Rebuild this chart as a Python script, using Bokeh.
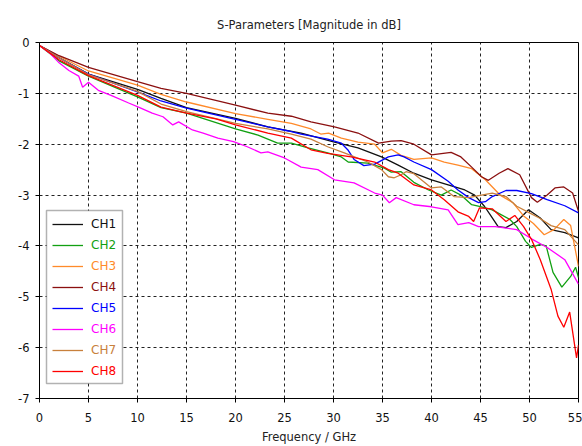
from bokeh.plotting import figure
from bokeh.models import Range1d, FixedTicker, Legend, LegendItem, BoxAnnotation, CustomJSTickFormatter
from bokeh.embed import file_html
from bokeh.resources import INLINE

title_text = "S-Parameters [Magnitude in dB]"
x_label = "Frequency / GHz"
x_ticks = [0, 5, 10, 15, 20, 25, 30, 35, 40, 45, 50, 55]
y_ticks = [-7, -6, -5, -4, -3, -2, -1, 0]

names = ["CH1", "CH2", "CH3", "CH4", "CH5", "CH6", "CH7", "CH8"]
colors = ["#111111", "#12a012", "#ff8a2a", "#8b1010", "#0000ff", "#ff00ff", "#c8803c", "#ff0000"]

ch1_f = [0, 2, 5, 10, 12.4, 15, 20, 23.3, 26.7, 30.1, 32.5, 34.9, 36.6, 38.2, 40, 41.7, 43.4, 44.4,
         45.4, 46.1, 46.8, 47.6, 48.7, 49.9, 51.1, 52.2, 53.6, 55]
ch1_db = [-0.06, -0.30, -0.62, -0.92, -1.10, -1.28, -1.49, -1.66, -1.78, -1.96, -2.07, -2.25, -2.41, -2.57,
          -2.70, -2.80, -2.90, -3.0, -3.22, -3.42, -3.62, -3.64, -3.52, -3.29, -3.45, -3.68, -3.74, -3.84]

ch2_f = [0, 2, 5, 10, 12.4, 15, 20, 22.3, 24.3, 25.7, 27.4, 29.4, 30.8, 31.5, 33.5, 35.2, 35.9, 36.9,
         38.2, 39.7, 41, 42, 43, 44.1, 45.1, 46.2, 48, 48.7, 49.6, 50.2, 51.1, 51.7, 52.4, 53.3, 54.2, 54.7, 55]
ch2_db = [-0.06, -0.36, -0.66, -1.07, -1.28, -1.39, -1.70, -1.82, -1.98, -1.98, -2.07, -2.17, -2.25, -2.35,
          -2.37, -2.47, -2.55, -2.54, -2.75, -2.90, -3.0, -2.9, -3.0, -3.19, -3.23, -3.29, -3.48, -3.62,
          -3.91, -4.03, -3.97, -4.0, -4.52, -4.81, -4.6, -4.42, -4.62]

ch3_f = [0, 2, 5, 10, 12.4, 15, 20, 23.3, 25.7, 27.7, 28.7, 29.5, 30.8, 32.5, 34.2, 35, 35.9, 36.9,
         38.2, 40, 41.3, 42.7, 44.1, 45.5, 47, 48.3, 49.4, 50.4, 51.5, 52.5, 53.5, 54.2, 55]
ch3_db = [-0.06, -0.27, -0.56, -0.84, -1.02, -1.17, -1.40, -1.51, -1.59, -1.70, -1.80, -1.78, -1.88, -1.96,
          -2.0, -2.17, -2.10, -2.22, -2.30, -2.27, -2.35, -2.41, -2.48, -2.70, -3.0, -3.15, -3.41, -3.56,
          -3.78, -3.68, -3.48, -3.6, -4.4]

ch4_f = [0, 2, 5, 10, 12.4, 15, 20, 23.3, 25.7, 27.7, 30.1, 32.5, 34.6, 35.9, 36.9, 38.2, 40, 42, 43,
         44.1, 45.1, 45.8, 46.9, 47.8, 49, 50.2, 50.8, 51.8, 52.6, 53.5, 54.4, 55]
ch4_db = [-0.06, -0.26, -0.49, -0.77, -0.90, -1.0, -1.23, -1.39, -1.45, -1.56, -1.66, -1.78, -1.98, -1.94,
          -1.93, -2.0, -2.21, -2.16, -2.25, -2.45, -2.64, -2.71, -2.57, -2.48, -2.60, -3.05, -3.14, -3.0,
          -2.86, -2.84, -2.96, -3.32]

ch5_f = [0, 2, 5, 10, 12.4, 15, 20, 23.3, 25.4, 26.7, 29.4, 30.8, 31.5, 32.1, 33.1, 34.2, 35.6, 36.6,
         37.2, 38.2, 40, 41.7, 42.7, 43.8, 44.8, 45.5, 46.2, 47.6, 48.7, 50.2, 51.8, 53.6, 55]
ch5_db = [-0.06, -0.30, -0.62, -0.97, -1.15, -1.29, -1.51, -1.66, -1.74, -1.80, -1.90, -1.98, -2.12, -2.30,
          -2.42, -2.39, -2.25, -2.21, -2.25, -2.35, -2.50, -2.73, -2.90, -3.05, -3.15, -3.13, -3.03, -2.91,
          -2.91, -2.97, -3.09, -3.21, -3.35]

ch6_f = [0, 1, 2, 3, 4, 4.4, 5, 6, 7.3, 9.1, 10.1, 11.5, 12.6, 13.6, 14.2, 15.6, 16.7, 18.2, 19.8, 21.2,
         22.6, 23.3, 25, 26.7, 28.4, 30.1, 32.1, 34.2, 35, 35.7, 36.4, 38.2, 40, 41.7, 42.7, 43.8, 44.8,
         46.5, 48.7, 50.3, 51.8, 53.6, 55]
ch6_db = [-0.06, -0.2, -0.4, -0.55, -0.66, -0.88, -0.78, -0.94, -1.04, -1.19, -1.27, -1.39, -1.46, -1.62,
          -1.56, -1.72, -1.78, -1.88, -1.95, -2.05, -2.17, -2.15, -2.27, -2.45, -2.50, -2.70, -2.76, -2.96,
          -3.0, -3.15, -3.05, -3.19, -3.23, -3.29, -3.58, -3.54, -3.62, -3.62, -3.68, -3.87, -4.03, -4.27, -4.75]

ch7_f = [0, 2, 5, 10, 12.4, 15, 20, 23.3, 25.7, 27.7, 29.4, 31.1, 33.5, 34.9, 35.6, 36.2, 36.9, 37.4,
         38.2, 40, 41, 42.3, 43.8, 45.1, 46.2, 47.6, 48.7, 50, 51, 52.2, 53.6, 55]
ch7_db = [-0.06, -0.30, -0.63, -0.96, -1.21, -1.36, -1.59, -1.70, -1.80, -1.90, -2.05, -2.17, -2.35, -2.50,
          -2.64, -2.66, -2.60, -2.54, -2.58, -2.86, -2.84, -3.03, -3.05, -3.0, -2.96, -3.03, -3.22, -3.35,
          -3.45, -3.60, -3.68, -3.98]

ch8_f = [0, 2, 5, 10, 12.4, 15, 18, 20, 23.3, 25.7, 27.7, 29.4, 31.8, 34.2, 35.6, 36.6, 38.2, 40, 41.3,
         42.7, 43.8, 44.3, 44.9, 46.2, 47.6, 48.5, 49.4, 50.2, 51.1, 52.2, 52.9, 53.5, 54.1, 54.8, 55]
ch8_db = [-0.06, -0.34, -0.65, -1.04, -1.27, -1.39, -1.50, -1.62, -1.78, -1.88, -2.11, -2.18, -2.25, -2.35,
          -2.50, -2.57, -2.80, -2.90, -3.09, -3.33, -3.42, -3.52, -3.25, -3.27, -3.52, -3.40, -3.62, -3.87,
          -4.27, -4.85, -5.38, -5.6, -5.30, -6.2, -5.95]

series_f = [ch1_f, ch2_f, ch3_f, ch4_f, ch5_f, ch6_f, ch7_f, ch8_f]
series_db = [ch1_db, ch2_db, ch3_db, ch4_db, ch5_db, ch6_db, ch7_db, ch8_db]

FONT = "DejaVu Sans"

p = figure(width=582, height=446, output_backend="svg", toolbar_location=None,
           x_range=Range1d(0, 55), y_range=Range1d(-7, 0),
           min_border_left=39, min_border_right=4, min_border_top=42, min_border_bottom=46,
           background_fill_color="white", border_fill_color="white")

p.title.text = title_text
p.title.align = "center"
p.title.text_font = FONT
p.title.text_font_size = "11.5px"
p.title.text_font_style = "normal"
p.title.text_color = "#222222"
p.title.standoff = 22

p.outline_line_color = "black"
p.outline_line_width = 1

for ax in (p.xaxis[0], p.yaxis[0]):
    ax.axis_line_color = "black"
    ax.major_tick_line_color = "black"
    ax.major_tick_out = 4
    ax.major_tick_in = 0
    ax.minor_tick_line_color = None
    ax.major_label_text_font = FONT
    ax.major_label_text_font_size = "11.5px"
    ax.major_label_text_color = "#111111"
    ax.formatter = CustomJSTickFormatter(code="return tick.toFixed(0);")

p.xaxis.ticker = FixedTicker(ticks=x_ticks)
p.yaxis.ticker = FixedTicker(ticks=y_ticks)
p.xaxis.major_label_standoff = 10
p.yaxis.major_label_standoff = 6
p.xaxis.axis_label = x_label
p.xaxis.axis_label_text_font = FONT
p.xaxis.axis_label_text_font_size = "11.5px"
p.xaxis.axis_label_text_font_style = "normal"
p.xaxis.axis_label_text_color = "#222222"
p.xaxis.axis_label_standoff = 5

for g in (p.xgrid[0], p.ygrid[0]):
    g.grid_line_color = "#222222"
    g.grid_line_dash = "3 3"
    g.grid_line_width = 1

renderers = []
for f, d, c in zip(series_f, series_db, colors):
    renderers.append(p.line(f, d, line_color=c, line_width=1.3))

# legend frame (screen units are relative to the plot frame, y measured upward from its bottom)
box = BoxAnnotation(left=7, right=83, top=188, bottom=15,
                    left_units="screen", right_units="screen", top_units="screen", bottom_units="screen",
                    fill_color="white", fill_alpha=1.0, line_color="black", line_width=1.5,
                    level="annotation")
p.add_layout(box)

for i, (name, c, r) in enumerate(zip(names, colors, renderers)):
    center = 226 + 21 * i
    vy = 400 - (center + 7)
    leg = Legend(items=[LegendItem(label=name, renderers=[r])], location=(13, vy),
                 border_line_color=None, background_fill_alpha=0, padding=0, margin=0,
                 glyph_width=31, glyph_height=14, label_height=14, label_standoff=8,
                 label_text_color=c, label_text_font=FONT, label_text_font_size="12px",
                 label_text_baseline="middle")
    p.add_layout(leg)

open("out.html", "w").write(file_html(p, INLINE))
